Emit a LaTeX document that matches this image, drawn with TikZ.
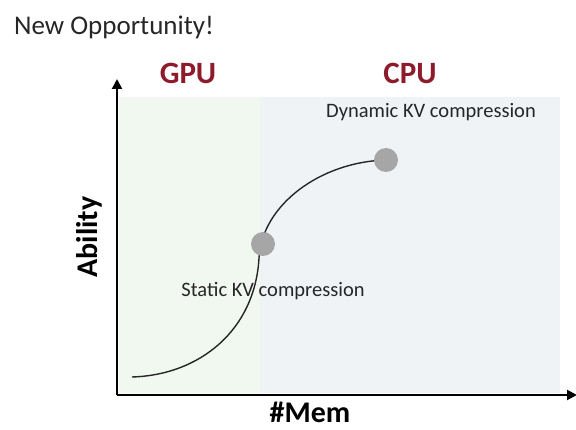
\documentclass[tikz,border=0pt]{standalone}
\usepackage{fontspec}
\setmainfont{Carlito}
\usetikzlibrary{arrows.meta}
\definecolor{gpuzone}{HTML}{F1F8EF}
\definecolor{cpuzone}{HTML}{F0F3F6}
\definecolor{zonetitle}{HTML}{8E1B2C}
\definecolor{marker}{HTML}{A6A6A6}
\definecolor{ink}{HTML}{262626}
\tikzset{
  axis/.style={line width=2pt, black, -{Triangle[length=10pt,width=10pt]}},
  zonelabel/.style={font=\fontsize{31}{36}\selectfont\bfseries, text=zonetitle, anchor=base, inner sep=0pt},
  axislabel/.style={font=\fontsize{30}{36}\selectfont\bfseries, text=black, anchor=base, inner sep=0pt},
  note/.style={font=\fontsize{20.5}{24}\selectfont, text=ink, anchor=base, inner sep=0pt},
  dot/.style={circle, fill=marker, minimum size=24pt, inner sep=0pt},
  curve/.style={line width=1.4pt, ink}
}
\begin{document}
\begin{tikzpicture}[x=1pt,y=-1pt]
  \useasboundingbox[fill=white] (0,0) rectangle (576,430);

  % background zones
  \fill[gpuzone] (119,97) rectangle (260,393);
  \fill[cpuzone] (260,97) rectangle (560,393);

  % title
  \node[anchor=base west, inner sep=0pt, font=\fontsize{27}{32}\selectfont, text=ink] (title) at (14,35) {New Opportunity!};

  % zone titles
  \node[zonelabel] (gpu) at (188,84) {GPU};
  \node[zonelabel] (cpu) at (410,84) {CPU};

  % axes
  \coordinate (O) at (117,395);
  \coordinate (ytip) at (117,79);
  \coordinate (xtip) at (577,395);
  \draw[axis] (O) -- (ytip);
  \draw[axis] (O) -- (xtip);

  % axis labels
  \node[axislabel, rotate=90] (ylab) at (97,237) {Ability};
  \node[axislabel] (xlab) at (310,422) {\#Mem};

  % growth curve through the two markers
  \coordinate (start) at (132,377);
  \coordinate (bend) at (259,258);
  \coordinate (top) at (386,160);
  \draw[curve] (start) .. controls (200,375) and (255,330) .. (bend)
               .. controls (262,205) and (320,162) .. (top);

  % markers
  \node[dot] (static) at (263,244) {};
  \node[dot] (dynamic) at (top) {};

  % annotations
  \node[note] (dynlab) at (431,118) {Dynamic KV compression};
  \node[note] (statlab) at (273,297) {Static KV compression};
\end{tikzpicture}
\end{document}
